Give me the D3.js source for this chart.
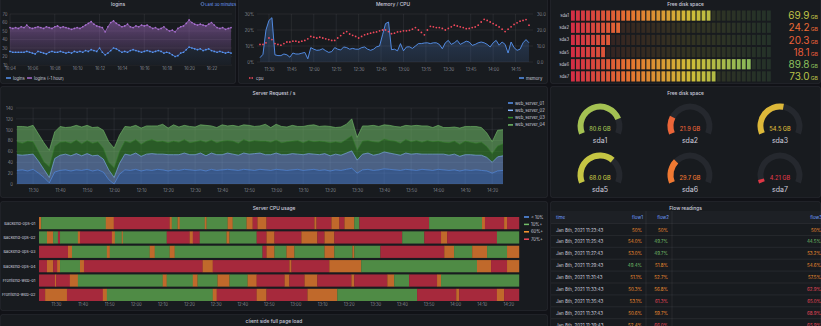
<!DOCTYPE html>
<html>
<head>
<meta charset="utf-8">
<script src="https://cdn.jsdelivr.net/npm/d3@7"></script>
<style>
body { margin: 0; background: #111217; }
svg { display: block; font-family: Inter, "Noto Sans", sans-serif; }
</style>
</head>
<body>
<script>
// ---------- data ----------
// logins, one point every 15 s from 16:04:00
const loginsStart = "16:04:00";
const loginsStepSec = 15;
const logins = [26,25,25,25,25,25,26,25,24,23, 26,25,24,23,25,26,25,25,26,25,
  24,25,24,26,25,26,25,27,26,28, 27,26,30,25,22,24,27,30,29,27,
  25,26,25,27,28,27,26,25,26,27, 26,25,26,27,26,24,25,24,22,20,
  21,24,25,28,31,30,29,28,29,27, 28,29,27,26,25,26,25,24,25,24];
const loginsHourAgo = [54,53,54,53,55,54,57,54,53,54, 55,54,53,55,54,53,55,56,54,55,
  54,53,52,53,54,53,55,57,59,61, 58,56,55,54,49,55,60,62,59,57,
  55,56,58,55,54,56,55,57,56,57, 55,53,54,52,53,55,52,50,51,49,
  53,55,56,59,63,60,58,57,58,57, 56,58,60,57,54,53,54,52,53,54];

// memory / cpu, one point every 2 min from 11:24
const memStart = "11:24:00";
const memStepMin = 2;
const cpu = [11,11,12,15,14,11.5,11,10.5,11.5,12.5, 12.5,13,13,12.5,13,13.5,14.5,16,15.5,15,
  15.5,15,14.5,14,13.5,13.5,15,16.5,18,19, 17.5,16.7,16,15,16,17,17.5,18,18.5,18.8,
  19.5,20,20,19,17.7,18,18.8,19,19.5,19.5, 19.8,20.5,21.5,20,18.5,17,20,22.3,22,21.5,
  21.5,21,20,21,22,23,22.5,22,21.5,20.8, 21,21.5,21.9,23,25,26.7,26,25,24,23,
  21.9,20.5,19,20.5,22,23.5,24.5,25.5,26,26.5, 23];
const memory = [2.7,4.8,20,26,27.7,4.5,4,4,5,4.5, 3,5.6,5,5,5.5,6,2,9,8,7.3,
  7.5,8.3,7,6,6.5,9,8,7.5,9.4,9, 8,8.5,8,8,9,9.4,8,7.3,8,9.5,
  10,17,24,25,7.7,8,7,11.5,7,9.4, 9.5,8.5,10,11.5,11.5,11.9,12,11.5,12,12,
  11,8.3,12,13.5,11,12,13.5,11,12,13, 12.5,10.4,11,12,12.5,12,11,9.4,12,13.5,
  10.5,12.5,11,5.6,12.5,9,7.3,8,12,14, 12];

// server requests / s, one point every 2 min from 11:24
const reqStart = "11:24:00";
const reqStepMin = 2;
const servers = ["web_server_01", "web_server_02", "web_server_03", "web_server_04"];
const web01 = [25,26,24,27,20,12,2,22,25,26, 24,26,25,27,24,26,22,8,0,18,
  26,25,27,24,26,25,27,26,24,26, 25,27,26,25,26,24,27,25,26,27,
  26,25,27,26,25,27,26,25,27,26, 25,26,27,25,26,27,25,26,24,26,
  25,27,29,20,26,27,25,26,28,27, 26,25,27,26,25,27,26,25,27,26,
  25,26,24,26,25,26,25,24,20,24, 25];
const web02 = [29,27,30,28,22,15,10,25,28,29, 28,30,27,29,28,27,24,18,12,20,
  29,28,30,27,29,31,28,29,30,28, 29,30,28,29,31,28,30,29,28,30,
  29,28,30,29,31,30,28,29,30,28, 29,30,28,29,30,28,29,30,28,29,
  28,30,32,24,29,30,28,29,31,30, 29,28,30,29,31,28,29,30,28,29,
  28,29,27,28,29,27,28,25,20,26, 27];
const web03 = [24,22,25,23,18,14,20,22,24,23, 23,25,22,24,23,25,20,14,18,22,
  24,23,25,22,24,26,23,24,22,25, 23,25,22,24,23,25,24,22,25,23,
  24,22,25,23,24,22,25,23,24,22, 24,23,25,22,24,23,25,22,24,23,
  23,25,28,18,24,23,25,22,24,23, 24,22,25,23,24,22,25,23,24,22,
  23,24,22,25,23,22,24,20,16,20, 22];
const web04 = [28,31,26,30,32,35,30,27,29,26, 30,27,31,28,29,27,33,38,36,30,
  27,29,26,30,28,25,29,31,27,30, 28,26,30,27,29,31,26,28,30,27,
  29,31,27,30,26,28,31,27,29,30, 27,29,26,30,28,31,27,29,30,26,
  29,28,31,24,28,27,30,29,26,28, 27,30,26,29,28,30,27,26,29,27,
  28,26,30,27,29,31,27,25,22,29, 26];

// server cpu usage: [minutes after 11:23:36, state] with 1 = 10%+, 2 = 60%+, 3 = 70%+
const cpuStart = "11:23:36";
const cpuEnd = "14:24:00";
const hosts = ["Backend-ops-01", "Backend-ops-02", "Backend-ops-03", "Backend-ops-04", "Frontend-web-01", "Frontend-web-02"];
const stateNames = ["< 10%", "10%+", "60%+", "70%+"];
const cpuStates = [
  [[0,2],[0.8,1],[25.1,2],[28.1,3],[49.1,2],[49.9,1],[52.1,2],[52.9,1],[62.3,2],[63,1],[70.9,2],[72.8,1],[78,2],[80.3,3],[82.1,2],[85.5,3],[103.5,2],[104.3,3],[109.9,2],[112.9,3],[114.8,2],[118.5,1],[120.4,3],[146.6,1],[166.5,2],[167.6,3],[174.8,2],[175.9,3]],
  [[0,1],[3,2],[5.3,1],[7.1,3],[7.9,1],[14.6,2],[15.4,3],[27.4,2],[28.5,1],[31.1,2],[31.5,1],[48,3],[56.6,2],[57.8,3],[60.4,1],[70.5,2],[71.6,1],[81.8,3],[85.5,2],[88.5,3],[98.6,2],[104.6,3],[107.3,2],[111,3],[136.5,1],[144.8,3],[151.1,2],[153.4,3],[172.1,1]],
  [[0,3],[10.9,2],[12.4,1],[25.5,2],[26.6,1],[41.6,2],[43.5,1],[49.1,2],[51,1],[84,3],[85.5,2],[88.5,1],[93,2],[96,1],[107.3,2],[111,1],[117.8,2],[118.5,1],[128.3,3],[152.3,2],[156,1],[162.8,2],[168.4,1],[175.9,2]],
  [[0,3],[3,2],[5.3,3],[6.8,2],[7.9,1],[15.4,2],[16.9,3],[61.5,2],[65.3,3],[94.1,2],[94.9,3],[109.1,2],[121.1,1],[164.6,2],[169.9,3],[175.9,2]],
  [[0,3],[6,2],[6.4,3],[11.6,2],[14.6,1],[46.5,2],[48,1],[57.8,2],[59.6,1],[67.1,2],[71.6,1],[78.4,2],[81.8,3],[92.3,2],[94.1,3],[99.8,2],[104.6,3],[117.4,2],[118.5,3],[130.9,2],[133.5,1],[139.1,3],[149.6,2],[151.1,1]],
  [[0,3],[2.3,2],[10.5,3],[24,2],[25.5,1],[65.3,2],[66.8,3],[81.8,2],[85.5,3],[100.9,2],[112.1,1],[142.1,3],[156.8,2],[157.9,3],[172.1,2],[174.8,3]]
];

// free disk space (GB)
const barDisks = ["sda1", "sda2", "sda3", "sda5", "sda6", "sda7"];
const barFree = [69.9, 24.2, 20.3, 18.1, 89.8, 73.0];
const gaugeDisks = ["sda1", "sda2", "sda3", "sda5", "sda6", "sda7"];
const gaugeFree = [80.6, 21.9, 54.5, 68.0, 29.7, 4.21];

// flow readings table
const flowColumns = ["time", "flow1", "flow2", "flow3"];
const flowTimes = ["11:23:43", "11:25:43", "11:27:43", "11:29:43", "11:31:43", "11:33:43", "11:35:43", "11:37:43", "11:39:43"];
const flow1 = ["50", "54.0", "53.0", "49.4", "51.1", "50.3", "53.1", "50.6", "52.4"];
const flow2 = ["50", "49.7", "49.7", "51.8", "52.7", "56.8", "61.3", "59.7", "66.0"];
const flow3 = ["50", "44.5", "53.2", "54.6", "57.5", "62.9", "65.0", "68.9", "65.9"];

// ---------- helpers ----------
const txt = "#ccccdc";
const dim = "rgba(204,204,220,0.62)";
const gridCol = "rgba(204,204,220,0.08)";
const small = 4.2;
const parseT = d3.timeParse("%H:%M:%S");
const addSec = (t, s) => new Date(t.getTime() + s * 1000);
const hm = d3.timeFormat("%H:%M");

const svg = d3.select("body").append("svg").attr("width", 821).attr("height", 326);
const defs = svg.append("defs");

const panels = [
  { x: 0, y: -3, w: 236, h: 87, title: "logins" },
  { x: 238, y: -3, w: 310, h: 87, title: "Memory / CPU" },
  { x: 550, y: -3, w: 271, h: 87, title: "Free disk space" },
  { x: 0, y: 86, w: 548, h: 112, title: "Server Request / s" },
  { x: 550, y: 86, w: 271, h: 112, title: "Free disk space" },
  { x: 0, y: 201, w: 548, h: 110, title: "Server CPU usage" },
  { x: 550, y: 201, w: 271, h: 130, title: "Flow readings" },
  { x: 0, y: 314, w: 548, h: 20, title: "client side full page load" }
];
svg.selectAll("rect.panel").data(panels).join("rect")
  .attr("class", "panel")
  .attr("x", d => d.x + 0.5).attr("y", d => d.y + 0.5)
  .attr("width", d => d.w - 1).attr("height", d => d.h - 1)
  .attr("rx", 2).attr("fill", "#181b1f").attr("stroke", "rgba(204,204,220,0.07)");
svg.selectAll("text.ptitle").data(panels).join("text")
  .attr("class", "ptitle")
  .attr("x", d => d.x + d.w / 2).attr("y", d => d.y + 7)
  .attr("text-anchor", "middle").attr("dominant-baseline", "central")
  .attr("font-size", 4.9).attr("font-weight", 500).attr("fill", txt)
  .text(d => d.title);

function styleAxis(g) {
  g.attr("font-family", null).attr("font-size", small);
  g.select(".domain").remove();
  g.selectAll(".tick line").remove();
  g.selectAll("text").attr("fill", dim);
}

function hGrid(y, ticks, x0, x1) {
  svg.append("g").selectAll("line").data(ticks).join("line")
    .attr("x1", x0).attr("x2", x1).attr("y1", d => y(d)).attr("y2", d => y(d))
    .attr("stroke", gridCol);
}
function vGrid(x, ticks, y0, y1) {
  svg.append("g").selectAll("line").data(ticks).join("line")
    .attr("x1", d => x(d)).attr("x2", d => x(d)).attr("y1", y0).attr("y2", y1)
    .attr("stroke", gridCol);
}

function gradient(id, color, y0, y1, a0, a1) {
  const g = defs.append("linearGradient").attr("id", id)
    .attr("gradientUnits", "userSpaceOnUse").attr("x1", 0).attr("x2", 0).attr("y1", y0).attr("y2", y1);
  g.append("stop").attr("offset", 0).attr("stop-color", color).attr("stop-opacity", a0);
  g.append("stop").attr("offset", 1).attr("stop-color", color).attr("stop-opacity", a1);
}

function legendItem(x, y, color, label, dash) {
  svg.append("line").attr("x1", x).attr("x2", x + 5).attr("y1", y).attr("y2", y)
    .attr("stroke", color).attr("stroke-width", 1.5).attr("stroke-dasharray", dash || null);
  svg.append("text").attr("x", x + 7).attr("y", y).attr("dominant-baseline", "central")
    .attr("font-size", small).attr("fill", txt).text(label);
}

// ---------- logins ----------
{
  const t0 = parseT(loginsStart);
  const times = logins.map((v, i) => addSec(t0, i * loginsStepSec));
  const x = d3.scaleTime().domain([t0, parseT("16:23:50")]).range([10, 232]);
  const y = d3.scaleLinear().domain([10, 70]).range([65, 14]);
  hGrid(y, y.ticks(6), 10, 232);
  vGrid(x, x.ticks(d3.timeMinute.every(4)), 14, 65);

  gradient("gPurple", "#a36ac4", 22, 65, 0.5, 0.02);
  gradient("gBlue", "#5794f2", 40, 65, 0.14, 0.03);

  svg.append("path").datum(loginsHourAgo)
    .attr("d", d3.area().x((d, i) => x(times[i])).y0(y(10)).y1(d => y(d)))
    .attr("fill", "url(#gPurple)");
  svg.append("path").datum(logins)
    .attr("d", d3.area().x((d, i) => x(times[i])).y0(y(10)).y1(d => y(d)))
    .attr("fill", "#181b1f");
  svg.append("path").datum(logins)
    .attr("d", d3.area().x((d, i) => x(times[i])).y0(y(10)).y1(d => y(d)))
    .attr("fill", "url(#gBlue)");

  [[loginsHourAgo, "#a86fd0"], [logins, "#5794f2"]].forEach(([s, c]) => {
    svg.append("path").datum(s)
      .attr("d", d3.line().x((d, i) => x(times[i])).y(d => y(d)))
      .attr("fill", "none").attr("stroke", c).attr("stroke-width", 0.7);
    svg.append("g").selectAll("circle").data(s).join("circle")
      .attr("cx", (d, i) => x(times[i])).attr("cy", d => y(d)).attr("r", 0.85).attr("fill", c);
  });

  svg.append("g").attr("transform", "translate(7.5,0)")
    .call(d3.axisLeft(y).ticks(6).tickSize(0).tickPadding(0)).call(styleAxis);
  svg.append("g").attr("transform", "translate(0,67.5)")
    .call(d3.axisBottom(x).ticks(d3.timeMinute.every(2)).tickFormat(hm).tickSize(0).tickPadding(0))
    .call(styleAxis);

  svg.append("circle").attr("cx", 202.5).attr("cy", 4).attr("r", 1.6)
    .attr("fill", "none").attr("stroke", "#6e9fff").attr("stroke-width", 0.6);
  svg.append("text").attr("x", 205.3).attr("y", 4).attr("dominant-baseline", "central")
    .attr("font-size", 4.1).attr("fill", "#6e9fff").text("Last 30 minutes");

  legendItem(6, 78, "#5794f2", "logins");
  legendItem(27, 78, "#a86fd0", "logins (-1 hour)");
}

// ---------- memory / cpu ----------
{
  const t0 = parseT(memStart);
  const times = memory.map((v, i) => addSec(t0, i * memStepMin * 60));
  const x = d3.scaleTime().domain([parseT("11:22:00"), parseT("14:26:40")]).range([257, 533]);
  const y = d3.scaleLinear().domain([0, 30]).range([62, 14]);
  hGrid(y, [0, 10, 20, 30], 257, 533);
  vGrid(x, x.ticks(d3.timeMinute.every(15)), 14, 62);

  gradient("gMem", "#5794f2", 14, 62, 0.32, 0.12);
  svg.append("path").datum(memory)
    .attr("d", d3.area().x((d, i) => x(times[i])).y0(y(0)).y1(d => y(d)))
    .attr("fill", "url(#gMem)");
  svg.append("path").datum(memory)
    .attr("d", d3.line().x((d, i) => x(times[i])).y(d => y(d)))
    .attr("fill", "none").attr("stroke", "#5794f2").attr("stroke-width", 0.9);
  svg.append("g").selectAll("circle").data(cpu).join("circle")
    .attr("cx", (d, i) => x(times[i])).attr("cy", d => y(d)).attr("r", 0.9).attr("fill", "#f2495c");

  svg.append("g").attr("transform", "translate(254,0)")
    .call(d3.axisLeft(y).tickValues([0, 10, 20, 30]).tickFormat(d => d + "%").tickSize(0).tickPadding(0))
    .call(styleAxis);
  svg.append("g").attr("transform", "translate(537,0)")
    .call(d3.axisRight(y).tickValues([0, 10, 20, 30]).tickFormat(d3.format(".1f")).tickSize(0).tickPadding(0))
    .call(styleAxis);
  svg.append("g").attr("transform", "translate(0,68.5)")
    .call(d3.axisBottom(x).ticks(d3.timeMinute.every(15)).tickFormat(hm).tickSize(0).tickPadding(0))
    .call(styleAxis);

  legendItem(249, 78, "#f2495c", "cpu", "1.5,1");
  legendItem(519, 78, "#5794f2", "memory");
}

// ---------- free disk space bar gauge ----------
const diskColor = d3.scaleLinear().domain([0, 30, 60, 100])
  .range(["#dc2c48", "#f07a32", "#d9c63a", "#73bf69"]).clamp(true);
{
  const y = d3.scaleBand().domain(barDisks).range([10.5, 81.5]).paddingInner(0.16);
  const x = d3.scaleLinear().domain([0, 100]).range([571, 772]);
  const cells = d3.range(40).map(i => i * 2.5);
  barDisks.forEach((name, r) => {
    const g = svg.append("g");
    g.selectAll("rect").data(cells).join("rect")
      .attr("x", d => x(d)).attr("y", y(name))
      .attr("width", x(2.5) - x(0) - 1.2).attr("height", y.bandwidth())
      .attr("fill", d => diskColor(d + 1.25))
      .attr("opacity", d => d + 1.25 < barFree[r] ? 0.95 : 0.14);
    svg.append("text").attr("x", 569).attr("y", y(name) + y.bandwidth() / 2)
      .attr("text-anchor", "end").attr("dominant-baseline", "central")
      .attr("font-size", small).attr("fill", txt).text(name);
    const t = svg.append("text").attr("x", 818).attr("y", y(name) + y.bandwidth() / 2 + 3.6)
      .attr("text-anchor", "end").attr("fill", diskColor(barFree[r]));
    t.append("tspan").attr("font-size", 10).text(d3.format(".3r")(barFree[r]));
    t.append("tspan").attr("font-size", 5.2).attr("dx", 1.2).text("GB");
  });
}

// ---------- free disk space gauges ----------
{
  const half = 112 * Math.PI / 180;
  const arc = d3.arc().innerRadius(16.5).outerRadius(22.5);
  gaugeDisks.forEach((name, i) => {
    const cx = 600 + (i % 3) * 90;
    const cy = 126 + Math.floor(i / 3) * 49;
    const g = svg.append("g").attr("transform", `translate(${cx},${cy})`);
    g.append("path").attr("d", arc({ startAngle: -half, endAngle: half })).attr("fill", "#25282e");
    g.append("path")
      .attr("d", arc({ startAngle: -half, endAngle: -half + 2 * half * gaugeFree[i] / 100 }))
      .attr("fill", diskColor(gaugeFree[i]));
    g.append("text").attr("y", 2.5).attr("text-anchor", "middle").attr("dominant-baseline", "central")
      .attr("font-size", 5.6).attr("font-weight", 500).attr("fill", diskColor(gaugeFree[i]))
      .text(d3.format(".3r")(gaugeFree[i]) + " GB");
    g.append("text").attr("y", 14.5).attr("text-anchor", "middle").attr("dominant-baseline", "central")
      .attr("font-size", 7).attr("fill", txt).text(name);
  });
}

// ---------- server request / s ----------
{
  const t0 = parseT(reqStart);
  const rows = web01.map((v, i) => ({
    time: addSec(t0, i * reqStepMin * 60),
    web_server_01: web01[i], web_server_02: web02[i], web_server_03: web03[i], web_server_04: web04[i]
  }));
  const x = d3.scaleTime().domain([parseT("11:23:40"), parseT("14:24:00")]).range([16, 503]);
  const y = d3.scaleLinear().domain([0, 140]).range([184, 108]);
  hGrid(y, y.ticks(7), 16, 503);
  vGrid(x, x.ticks(d3.timeMinute.every(10)), 108, 184);

  const colors = ["#5794f2", "#8ab8ff", "#37872d", "#73bf69"];
  const opac = [0.5, 0.45, 0.6, 0.55];
  const stacked = d3.stack().keys(servers)(rows);
  svg.append("g").selectAll("path").data(stacked).join("path")
    .attr("d", d3.area().x(d => x(d.data.time)).y0(d => y(d[0])).y1(d => y(d[1])))
    .attr("fill", (d, i) => colors[i]).attr("fill-opacity", (d, i) => opac[i]);
  svg.append("g").selectAll("path").data(stacked).join("path")
    .attr("d", d3.line().x(d => x(d.data.time)).y(d => y(d[1])))
    .attr("fill", "none").attr("stroke", (d, i) => colors[i]).attr("stroke-width", 0.6);

  svg.append("g").attr("transform", "translate(13,0)")
    .call(d3.axisLeft(y).ticks(7).tickSize(0).tickPadding(0)).call(styleAxis);
  svg.append("g").attr("transform", "translate(0,189.5)")
    .call(d3.axisBottom(x).ticks(d3.timeMinute.every(10)).tickFormat(hm).tickSize(0).tickPadding(0))
    .call(styleAxis);

  servers.forEach((s, i) => legendItem(508, 103 + i * 7.3, colors[i], s));
}

// ---------- server cpu usage ----------
{
  const t0 = parseT(cpuStart);
  const tEnd = parseT(cpuEnd);
  const total = (tEnd - t0) / 60000;
  const x = d3.scaleTime().domain([t0, tEnd]).range([39, 519]);
  const y = d3.scaleBand().domain(hosts).range([217, 301]).paddingInner(0.15);
  const fills = ["#3f6fb8", "#4f8b45", "#c0692b", "#a6293c"];
  hosts.forEach((h, r) => {
    const segs = cpuStates[r].map((s, k) => ({
      start: addSec(t0, s[0] * 60),
      end: addSec(t0, (k + 1 < cpuStates[r].length ? cpuStates[r][k + 1][0] : total) * 60),
      state: s[1]
    }));
    svg.append("g").selectAll("rect").data(segs).join("rect")
      .attr("x", d => x(d.start)).attr("y", y(h))
      .attr("width", d => Math.max(0.8, x(d.end) - x(d.start)) + 0.2)
      .attr("height", y.bandwidth()).attr("fill", d => fills[d.state]);
    svg.append("text").attr("x", 35.5).attr("y", y(h) + y.bandwidth() / 2)
      .attr("text-anchor", "end").attr("dominant-baseline", "central")
      .attr("font-size", 4).attr("fill", txt).text(h);
  });
  svg.append("g").attr("transform", "translate(0,303.5)")
    .call(d3.axisBottom(x).ticks(d3.timeMinute.every(10)).tickFormat(hm).tickSize(0).tickPadding(0))
    .call(styleAxis);
  const legendCols = ["#5794f2", "#73bf69", "#ff9830", "#f2495c"];
  stateNames.forEach((s, i) => legendItem(524, 217 + i * 7.4, legendCols[i], s));
}

// ---------- flow readings table ----------
{
  const flowColor = v => v < 50 ? "#73bf69" : v < 60 ? "#f0902f" : "#e8475a";
  defs.append("clipPath").attr("id", "tblClip")
    .append("rect").attr("x", 550).attr("y", 201).attr("width", 271).attr("height", 125);
  const g = svg.append("g").attr("clip-path", "url(#tblClip)");
  const rowY = i => 230 + i * 11.9;
  g.append("rect").attr("x", 551).attr("y", 211).attr("width", 270).attr("height", 12)
    .attr("fill", "rgba(204,204,220,0.03)");
  g.selectAll("line.row").data(d3.range(10)).join("line")
    .attr("class", "row").attr("x1", 551).attr("x2", 821)
    .attr("y1", d => 223.5 + d * 11.9).attr("y2", d => 223.5 + d * 11.9)
    .attr("stroke", "rgba(204,204,220,0.08)");
  [646, 672].forEach(cx => g.append("line").attr("x1", cx).attr("x2", cx).attr("y1", 211).attr("y2", 326)
    .attr("stroke", "rgba(204,204,220,0.08)"));
  const colX = [556, 643, 669, 822];
  flowColumns.forEach((c, k) => g.append("text")
    .attr("x", colX[k]).attr("y", 217).attr("text-anchor", k ? "end" : "start")
    .attr("dominant-baseline", "central").attr("font-size", 4.5).attr("fill", "#6e9fff").text(c));
  flowTimes.forEach((t, i) => {
    g.append("text").attr("x", 556).attr("y", rowY(i)).attr("dominant-baseline", "central")
      .attr("font-size", 4.5).attr("fill", txt).text("Jan 8th, 2021 " + t);
    [flow1, flow2, flow3].forEach((col, k) => g.append("text")
      .attr("x", colX[k + 1] - 1).attr("y", rowY(i)).attr("text-anchor", "end")
      .attr("dominant-baseline", "central").attr("font-size", 4.5)
      .attr("fill", flowColor(+col[i])).text(col[i] + "%"));
  });
}
</script>
</body>
</html>
